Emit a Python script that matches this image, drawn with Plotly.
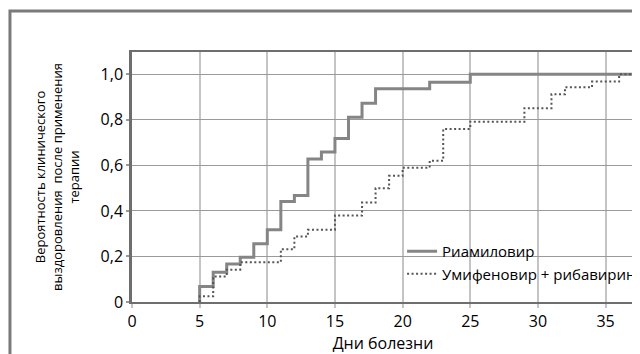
import plotly.graph_objects as go

# Riamilovir (solid)
riam_days = [5, 5, 6, 7, 8, 9, 10, 11, 12, 13, 14, 15, 16, 17, 18, 22, 25, 37]
riam_prob = [0, 0.068, 0.131, 0.167, 0.196, 0.256, 0.317, 0.441, 0.468, 0.628, 0.659, 0.718, 0.811, 0.873, 0.937, 0.965, 1.0, 1.0]

# Umifenovir + ribavirin (dotted)
umif_days = [5, 5, 6, 7, 8, 11, 12, 13, 15, 17, 18, 19, 20, 22, 23, 25, 29, 31, 32, 34, 36, 37]
umif_prob = [0, 0.025, 0.112, 0.142, 0.175, 0.232, 0.288, 0.317, 0.380, 0.437, 0.500, 0.554, 0.590, 0.620, 0.760, 0.792, 0.851, 0.912, 0.943, 0.968, 1.0, 1.0]

series_names = ["Риамиловир", "Умифеновир + рибавирин"]

x_ticks = [0, 5, 10, 15, 20, 25, 30, 35]
y_ticks = [0, 0.2, 0.4, 0.6, 0.8, 1.0]
y_tick_labels = ["0", "0,2", "0,4", "0,6", "0,8", "1,0"]

x_title = "Дни болезни"
y_title = "Вероятность клинического<br>выздоровления  после применения<br>терапии"

FONT = "Open Sans"

fig = go.Figure()
fig.add_trace(go.Scatter(
    x=riam_days, y=riam_prob, name=series_names[0], mode="lines",
    line=dict(shape="hv", color="#858585", width=3),
))
fig.add_trace(go.Scatter(
    x=umif_days, y=umif_prob, name=series_names[1], mode="lines",
    line=dict(shape="hv", color="#555555", width=2, dash="2px,2.5px"),
))

fig.update_layout(
    width=632, height=346,
    margin=dict(l=123.7, r=5.7, t=44, b=51.7, autoexpand=False),
    paper_bgcolor="white", plot_bgcolor="white",
    font=dict(family=FONT, size=15, color="black"),
    showlegend=True,
    legend=dict(
        x=0.538, y=0.268, xanchor="left", yanchor="top",
        bgcolor="rgba(0,0,0,0)", font=dict(family=FONT, size=15, color="black"),
        tracegroupgap=0,
    ),
    xaxis=dict(
        range=[0, 37.1], tickvals=x_ticks, ticks="outside", ticklen=4,
        tickcolor="#c4c4c4", tickwidth=1.5,
        showgrid=True, gridcolor="#c4c4c4", gridwidth=1.5,
        showline=True, linecolor="#6e6e6e", linewidth=2, mirror=True,
        zeroline=False, automargin=False,
        title=dict(text=x_title, font=dict(size=16), standoff=11),
        tickfont=dict(size=16),
    ),
    yaxis=dict(
        range=[0, 1.098], tickvals=y_ticks, ticktext=y_tick_labels,
        ticks="outside", ticklen=3, tickcolor="#999999", tickwidth=1.5,
        showgrid=True, gridcolor="#9a9a9a", gridwidth=1.2,
        showline=True, linecolor="#6e6e6e", linewidth=2.5, mirror=True,
        zeroline=False, automargin=False,
        title=dict(text=y_title, font=dict(size=13), standoff=19),
        tickfont=dict(size=16),
    ),
    shapes=[
        # outer frame
        dict(type="rect", xref="paper", yref="paper",
             x0=-0.2431, x1=1.5, y0=-1.0, y1=1.1638,
             line=dict(color="#7a7a7a", width=3), layer="below"),
        # right border of plot (black)
        dict(type="line", xref="paper", yref="paper",
             x0=1, x1=1, y0=0, y1=1, line=dict(color="black", width=1.5)),
    ],
)

fig.write_html("out.html")
